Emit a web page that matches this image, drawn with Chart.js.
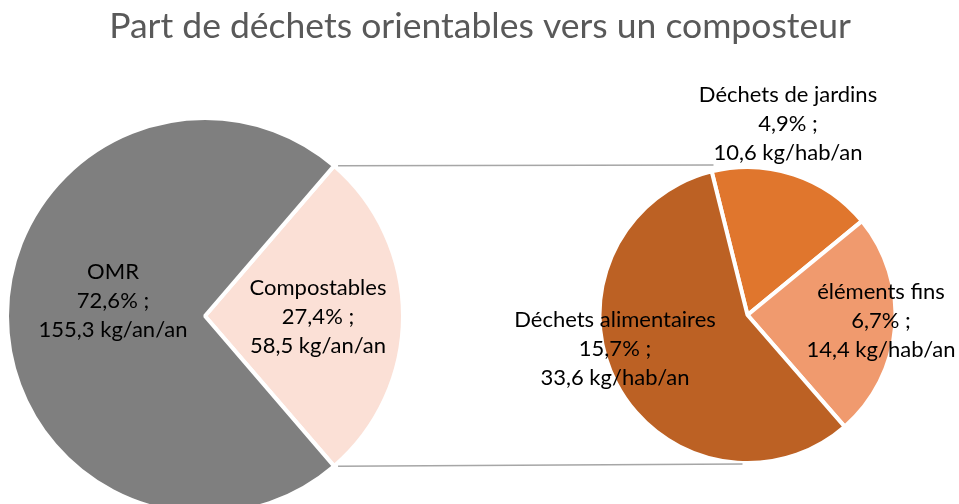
<!DOCTYPE html>
<html>
<head>
<meta charset="utf-8">
<script src="https://cdn.jsdelivr.net/npm/chart.js@4.4.1/dist/chart.umd.min.js"></script>
<style>
  html, body { margin: 0; padding: 0; background: #ffffff; overflow: hidden; }
  #wrap { position: relative; width: 959px; height: 504px; overflow: hidden; }
  #wrap canvas { position: absolute; left: 0; top: 0; }
</style>
</head>
<body>
<div id="wrap">
  <canvas id="chart-main" width="959" height="520"></canvas>
  <canvas id="chart-sub" width="959" height="520"></canvas>
</div>
<script>
const TITLE = 'Part de déchets orientables vers un composteur';

// main pie
const mainLabels = ['Compostables', 'OMR'];
const mainPercent = [27.4, 72.6];
const mainKg = ['58,5', '155,3'];
const mainColors = ['#fbe0d6', '#7f7f7f'];

// detail pie (share of compostables)
const subLabels = ['Déchets de jardins', 'éléments fins', 'Déchets alimentaires'];
const subPercent = [4.9, 6.7, 15.7];
const subKg = ['10,6', '14,4', '33,6'];
const subColors = ['#e0762d', '#f09a6e', '#bc6124'];

const FONT = "Lato, 'Open Sans', sans-serif";

function fmtPct(v) {
    return v.toFixed(1).replace('.', ',') + '% ;';
}

// text blocks: centre x, first line y
const mainTextPos = [
    { x: 318, y: 288 },
    { x: 113, y: 272 }
];
const subTextPos = [
    { x: 788, y: 95 },
    { x: 881, y: 292 },
    { x: 615, y: 320 }
];
const LINE_H = 29;

function drawBlock(ctx, lines, pos) {
    ctx.save();
    ctx.font = '22px ' + FONT;
    ctx.fillStyle = '#000000';
    ctx.textAlign = 'center';
    ctx.textBaseline = 'middle';
    lines.forEach((t, i) => ctx.fillText(t, pos.x, pos.y + i * LINE_H));
    ctx.restore();
}

let mainChart = null;

const overlayPlugin = {
    id: 'overlay',
    afterDatasetsDraw(chart) {
        const ctx = chart.ctx;

        // title
        ctx.save();
        ctx.font = '35.5px ' + FONT;
        ctx.fillStyle = '#595959';
        ctx.textAlign = 'center';
        ctx.textBaseline = 'alphabetic';
        ctx.fillText(TITLE, 480, 38);
        ctx.restore();

        // connector lines from compostables slice edges to detail pie top / bottom
        if (mainChart) {
            const arc = mainChart.getDatasetMeta(0).data[0];
            const sub = chart.getDatasetMeta(0).data[0];
            const r = arc.outerRadius;
            const p1 = { x: arc.x + r * Math.cos(arc.startAngle), y: arc.y + r * Math.sin(arc.startAngle) };
            const p2 = { x: arc.x + r * Math.cos(arc.endAngle), y: arc.y + r * Math.sin(arc.endAngle) };
            ctx.save();
            ctx.strokeStyle = '#a6a6a6';
            ctx.lineWidth = 1.5;
            ctx.beginPath();
            ctx.moveTo(p1.x + 4, p1.y);
            ctx.lineTo(sub.x - 34, sub.y - sub.outerRadius - 2);
            ctx.moveTo(p2.x + 4, p2.y);
            ctx.lineTo(sub.x - 5, sub.y + sub.outerRadius + 1);
            ctx.stroke();
            ctx.restore();

            mainLabels.forEach((lab, i) => {
                drawBlock(ctx, [lab, fmtPct(mainPercent[i]), mainKg[i] + ' kg/an/an'], mainTextPos[i]);
            });
        }

        subLabels.forEach((lab, i) => {
            drawBlock(ctx, [lab, fmtPct(subPercent[i]), subKg[i] + ' kg/hab/an'], subTextPos[i]);
        });
    }
};

const commonOptions = {
    responsive: false,
    animation: false,
    plugins: {
        legend: { display: false },
        tooltip: { enabled: false },
        title: { display: false }
    }
};

mainChart = new Chart(document.getElementById('chart-main'), {
    type: 'pie',
    data: {
        labels: mainLabels,
        datasets: [{
            data: mainPercent,
            backgroundColor: mainColors,
            borderColor: '#ffffff',
            borderWidth: 4
        }]
    },
    options: Object.assign({}, commonOptions, {
        rotation: 90 - mainPercent[0] * 3.6 / 2,
        radius: 198,
        layout: { padding: { left: 9, top: 120, right: 558, bottom: 8 } }
    })
});

new Chart(document.getElementById('chart-sub'), {
    type: 'pie',
    data: {
        labels: subLabels,
        datasets: [{
            data: subPercent,
            backgroundColor: subColors,
            borderColor: '#ffffff',
            borderWidth: 4
        }]
    },
    options: Object.assign({}, commonOptions, {
        rotation: -14,
        radius: 148,
        layout: { padding: { left: 601, top: 169, right: 65, bottom: 59 } }
    }),
    plugins: [overlayPlugin]
});
</script>
</body>
</html>
